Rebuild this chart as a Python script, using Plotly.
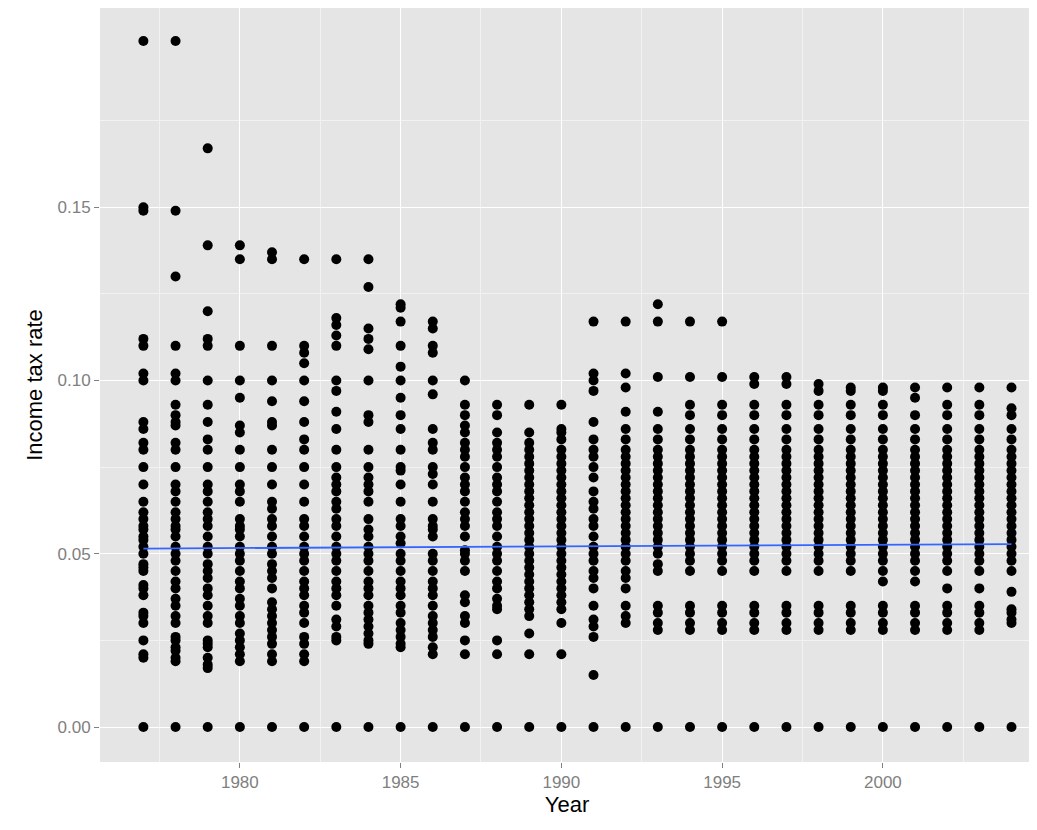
import numpy as np
import plotly.graph_objects as go

# values in thousandths of a unit, per year
rates = {
1977: [0, 20, 21, 25, 30, 32, 33, 38, 40, 41, 45, 46, 47, 50, 52, 54, 55, 57, 58, 60, 62, 65, 70, 75, 80, 82, 86, 88, 100, 102, 110, 112, 149, 150, 198],
1978: [0, 19, 20, 22, 23, 25, 26, 30, 32, 35, 37, 40, 42, 45, 48, 50, 52, 55, 57, 58, 60, 62, 65, 68, 70, 75, 80, 82, 87, 88, 90, 93, 100, 102, 110, 130, 149, 198],
1979: [0, 17, 18, 20, 23, 24, 25, 30, 32, 35, 38, 40, 43, 45, 47, 50, 52, 55, 58, 60, 62, 65, 68, 70, 75, 80, 83, 88, 93, 100, 110, 112, 120, 139, 167],
1980: [0, 19, 21, 23, 25, 27, 30, 32, 35, 37, 40, 42, 45, 48, 50, 52, 55, 57, 58, 60, 65, 68, 70, 75, 80, 85, 87, 95, 100, 110, 135, 139],
1981: [0, 19, 21, 24, 26, 28, 30, 32, 34, 36, 40, 43, 45, 47, 50, 52, 55, 58, 60, 63, 65, 70, 75, 80, 87, 88, 94, 100, 110, 135, 137],
1982: [0, 19, 21, 24, 26, 30, 33, 35, 38, 40, 42, 45, 48, 50, 52, 55, 58, 60, 65, 70, 75, 80, 83, 88, 94, 100, 105, 108, 110, 135],
1983: [0, 25, 26, 29, 31, 35, 38, 40, 42, 45, 48, 50, 52, 55, 58, 60, 63, 65, 68, 70, 72, 75, 80, 86, 91, 97, 100, 110, 113, 116, 118, 135],
1984: [0, 24, 25, 27, 29, 31, 33, 35, 38, 40, 42, 45, 48, 50, 52, 55, 57, 60, 65, 68, 70, 72, 75, 80, 88, 90, 100, 109, 112, 115, 127, 135],
1985: [0, 23, 24, 26, 28, 30, 33, 35, 38, 40, 42, 45, 48, 50, 53, 55, 58, 60, 65, 70, 74, 75, 80, 86, 90, 95, 100, 104, 110, 117, 121, 122],
1986: [0, 21, 23, 26, 28, 30, 32, 35, 38, 40, 42, 45, 48, 50, 55, 57, 58, 60, 65, 70, 73, 75, 80, 82, 86, 96, 100, 108, 110, 115, 117],
1987: [0, 21, 25, 30, 32, 36, 38, 45, 48, 50, 51, 55, 58, 60, 62, 65, 68, 70, 72, 75, 78, 80, 82, 85, 87, 90, 93, 100],
1988: [0, 21, 25, 34, 35, 37, 40, 42, 45, 48, 50, 52, 55, 58, 60, 62, 65, 68, 70, 72, 75, 78, 80, 82, 85, 90, 93],
1989: [0, 21, 27, 32, 34, 36, 38, 40, 42, 44, 46, 48, 50, 52, 54, 56, 58, 60, 62, 64, 66, 68, 70, 72, 74, 76, 78, 80, 82, 85, 93],
1990: [0, 21, 30, 34, 36, 38, 40, 42, 44, 46, 48, 50, 52, 54, 56, 58, 60, 62, 64, 66, 68, 70, 72, 74, 76, 78, 80, 83, 85, 86, 93],
1991: [0, 15, 26, 29, 31, 35, 40, 43, 45, 48, 50, 52, 55, 58, 60, 63, 65, 68, 72, 75, 78, 80, 83, 88, 97, 100, 102, 117],
1992: [0, 30, 32, 35, 40, 43, 45, 48, 50, 52, 54, 56, 58, 60, 62, 64, 66, 68, 70, 72, 74, 76, 78, 80, 83, 86, 91, 98, 102, 117],
1993: [0, 28, 30, 33, 35, 45, 47, 50, 52, 54, 56, 58, 60, 62, 64, 66, 68, 70, 72, 74, 76, 78, 80, 83, 86, 91, 101, 117, 122],
1994: [0, 28, 30, 33, 35, 45, 48, 50, 52, 54, 56, 58, 60, 62, 64, 66, 68, 70, 72, 74, 76, 78, 80, 83, 86, 90, 93, 101, 117],
1995: [0, 28, 30, 33, 35, 45, 48, 50, 52, 54, 56, 58, 60, 62, 64, 66, 68, 70, 72, 74, 76, 78, 80, 83, 86, 90, 93, 101, 117],
1996: [0, 28, 30, 33, 35, 45, 48, 50, 52, 54, 56, 58, 60, 62, 64, 66, 68, 70, 72, 74, 76, 78, 80, 83, 86, 90, 93, 99, 101],
1997: [0, 28, 30, 33, 35, 45, 48, 50, 52, 54, 56, 58, 60, 62, 64, 66, 68, 70, 72, 74, 76, 78, 80, 83, 86, 90, 93, 99, 101],
1998: [0, 28, 30, 33, 35, 45, 48, 50, 52, 54, 56, 58, 60, 62, 64, 66, 68, 70, 72, 74, 76, 78, 80, 83, 86, 90, 93, 97, 99],
1999: [0, 28, 30, 33, 35, 45, 48, 50, 52, 54, 56, 58, 60, 62, 64, 66, 68, 70, 72, 74, 76, 78, 80, 83, 86, 90, 93, 97, 98],
2000: [0, 28, 30, 33, 35, 42, 45, 48, 50, 52, 54, 56, 58, 60, 62, 64, 66, 68, 70, 72, 74, 76, 78, 80, 83, 86, 90, 93, 97, 98],
2001: [0, 28, 30, 33, 35, 42, 45, 48, 50, 52, 54, 56, 58, 60, 62, 64, 66, 68, 70, 72, 74, 76, 78, 80, 83, 86, 90, 95, 98],
2002: [0, 28, 30, 33, 35, 40, 45, 48, 50, 52, 54, 56, 58, 60, 62, 64, 66, 68, 70, 72, 74, 76, 78, 80, 83, 86, 90, 93, 98],
2003: [0, 28, 30, 33, 35, 40, 45, 48, 50, 52, 54, 56, 58, 60, 62, 64, 66, 68, 70, 72, 74, 76, 78, 80, 83, 86, 90, 93, 98],
2004: [0, 30, 31, 33, 34, 39, 45, 48, 50, 52, 54, 56, 58, 60, 62, 64, 66, 68, 70, 72, 74, 76, 78, 80, 83, 86, 90, 92, 98],
}
# linear fit
fit_years = [1977, 2004]
fit_values = [0.0515, 0.0528]

xs, ys = [], []
for yr, vals in rates.items():
    for v in vals:
        xs.append(yr)
        ys.append(v / 1000.0)

fig = go.Figure()
fig.add_trace(go.Scatter(x=xs, y=ys, mode="markers",
                         marker=dict(color="black", size=10), hoverinfo="skip"))
fig.add_trace(go.Scatter(x=fit_years, y=fit_values, mode="lines",
                         line=dict(color="#3366FF", width=1.8)))

axis_common = dict(showgrid=True, gridcolor="white", gridwidth=1.2, zeroline=False,
                   ticks="outside", ticklen=5, tickcolor="#7F7F7F", automargin=False,
                   tickfont=dict(family="Liberation Sans, Arial", size=17, color="#7F7F7F"),
                   showline=False)
fig.update_layout(
    width=1037, height=830, showlegend=False,
    paper_bgcolor="white", plot_bgcolor="#E5E5E5",
    margin=dict(l=92, r=11, t=0, b=76),
    xaxis=dict(range=[1975.65, 2004.7], tickvals=[1980, 1985, 1990, 1995, 2000],
               minor=dict(tickvals=[1977.5, 1982.5, 1987.5, 1992.5, 1997.5, 2002.5],
                          showgrid=True, gridcolor="#F2F2F2", gridwidth=1, ticks=""),
               title=dict(text="Year", font=dict(family="Liberation Sans, Arial", size=22, color="black"), standoff=2),
               **axis_common),
    yaxis=dict(range=[-0.0101, 0.2075], tickvals=[0, 0.05, 0.10, 0.15],
               ticktext=["0.00", "0.05", "0.10", "0.15"],
               minor=dict(tickvals=[0.025, 0.075, 0.125, 0.175],
                          showgrid=True, gridcolor="#F2F2F2", gridwidth=1, ticks=""),
               title=dict(text="Income tax rate", font=dict(family="Liberation Sans, Arial", size=22, color="black"), standoff=8),
               **axis_common),
)
fig.write_html("out.html")
